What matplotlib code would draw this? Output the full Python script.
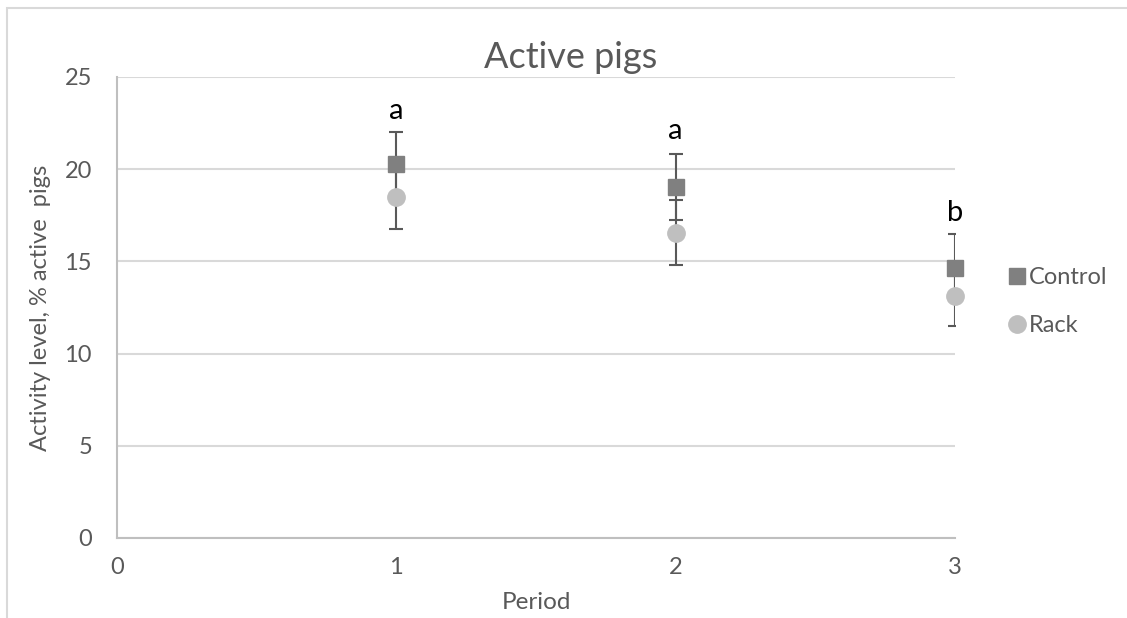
import matplotlib
matplotlib.use('Agg')
import matplotlib.pyplot as plt
from matplotlib.patches import Rectangle
from matplotlib.lines import Line2D

plt.rcParams['font.family'] = ['Lato', 'DejaVu Sans']

periods = [1, 2, 3]
control = [20.28, 19.05, 14.66]
control_err = [1.75, 1.78, 1.8]
rack = [18.49, 16.56, 13.12]
rack_err = [1.75, 1.77, 1.6]
letters = ['a', 'a', 'b']
letter_y = [23.15, 22.05, 17.6]

grey_txt = '#595959'

fig = plt.figure(figsize=(11.27, 6.18), dpi=100)
ax = fig.add_axes([117 / 1127, 1 - 538 / 618, (955 - 117) / 1127, (538 - 77) / 618])

# 外框
fig.add_artist(Rectangle((7 / 1127, -0.1), 1.2, 1 - 8 / 618 + 0.1, transform=fig.transFigure,
                         fill=False, edgecolor='#D9D9D9', lw=1.5))

# 误差线在下，点在上
for y, e in [(rack, rack_err), (control, control_err)]:
    ax.errorbar(periods, y, yerr=e, fmt='none', ecolor='#595959',
                elinewidth=1.5, capsize=5, capthick=1.5, zorder=3)
ax.plot(periods, rack, 'o', color='#BFBFBF', ms=12.5, zorder=5, clip_on=False)
ax.plot(periods, control, 's', color='#808080', ms=12, zorder=6, clip_on=False)

for x, y, t in zip(periods, letter_y, letters):
    ax.text(x, y, t, ha='center', va='center', fontsize=21, color='black')

ax.set_xlim(0, 3)
ax.set_ylim(0, 25)
ax.set_xticks([0, 1, 2, 3])
ax.set_yticks([0, 5, 10, 15, 20, 25])
ax.grid(axis='y', color='#D9D9D9', lw=1.5)
ax.set_axisbelow(True)
for s in ['top', 'right']:
    ax.spines[s].set_visible(False)
for s in ['left', 'bottom']:
    ax.spines[s].set_color('#BFBFBF')
    ax.spines[s].set_linewidth(1.5)
ax.tick_params(length=0, labelsize=17, labelcolor=grey_txt, pad=14)
ax.tick_params(axis='y', pad=18)

fig.text(571 / 1127, 1 - 68 / 618, 'Active pigs', fontsize=26, color=grey_txt,
         ha='center', va='baseline')
ax.set_xlabel('Period', fontsize=17.5, color=grey_txt, labelpad=10)
ax.set_ylabel('Activity level, % active  pigs', fontsize=17, color=grey_txt, labelpad=10)

handles = [Line2D([], [], ls='none', marker='s', ms=12, color='#808080'),
           Line2D([], [], ls='none', marker='o', ms=12.5, color='#BFBFBF')]
ax.legend(handles, ['Control', 'Rack'], loc='center left', bbox_to_anchor=(1.035, 0.513),
          frameon=False, fontsize=17, handletextpad=0.0, labelspacing=1.15,
          handlelength=1.0, labelcolor=grey_txt)

fig.savefig('out.png', dpi=100)
